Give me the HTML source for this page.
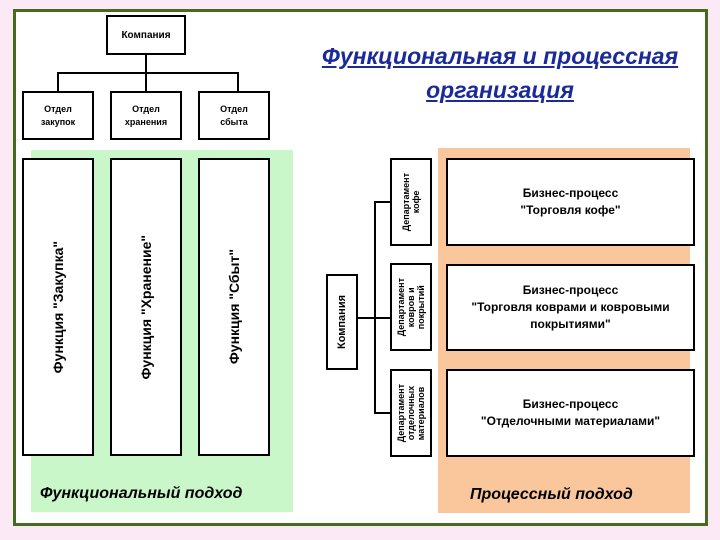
<!DOCTYPE html>
<html><head><meta charset="utf-8"><style>
*{margin:0;padding:0;box-sizing:border-box}
body{width:720px;height:540px;background:#fbe9f6;position:relative;overflow:hidden;font-family:"Liberation Sans",sans-serif}
.a{position:absolute}
.frame{left:13px;top:9px;width:695px;height:517px;border:3px solid #466a1e;background:#fff}
.box{position:absolute;border:2px solid #000;background:#fff;display:flex;align-items:center;justify-content:center;text-align:center;font-weight:bold;color:#000}
.v{writing-mode:vertical-rl;transform:rotate(180deg)}
.ln{position:absolute;background:#000}
.t{position:absolute;font-style:italic;font-weight:bold;font-size:16px;color:#000}
</style></head><body>
<div class="a frame"></div>
<div class="a" style="left:31px;top:150px;width:262px;height:362px;background:#c9f7c9"></div>
<div class="a" style="left:438px;top:148px;width:252px;height:365px;background:#f9c79b"></div>

<div class="box" style="left:106px;top:15px;width:80px;height:40px;font-size:10px">Компания</div>
<div class="ln" style="left:145px;top:55px;width:2px;height:18px"></div>
<div class="ln" style="left:57px;top:72px;width:182px;height:2px"></div>
<div class="ln" style="left:57px;top:72px;width:2px;height:20px"></div>
<div class="ln" style="left:145px;top:72px;width:2px;height:20px"></div>
<div class="ln" style="left:237px;top:72px;width:2px;height:20px"></div>
<div class="box" style="left:22px;top:91px;width:72px;height:49px;font-size:9px;line-height:13px">Отдел<br>закупок</div>
<div class="box" style="left:110px;top:91px;width:72px;height:49px;font-size:9px;line-height:13px">Отдел<br>хранения</div>
<div class="box" style="left:198px;top:91px;width:72px;height:49px;font-size:9px;line-height:13px">Отдел<br>сбыта</div>

<div class="box" style="left:22px;top:158px;width:72px;height:298px;font-size:14px"><span class="v">Функция "Закупка"</span></div>
<div class="box" style="left:110px;top:158px;width:72px;height:298px;font-size:14px"><span class="v">Функция "Хранение"</span></div>
<div class="box" style="left:198px;top:158px;width:72px;height:298px;font-size:14px"><span class="v">Функция "Сбыт"</span></div>
<div class="t" style="left:40px;top:485px">Функциональный подход</div>

<div class="a" style="left:290px;top:39px;width:420px;text-align:center;font-style:italic;font-weight:bold;font-size:23px;line-height:34px;color:#1a2a9a;text-decoration:underline">Функциональная и процессная<br>организация</div>

<div class="box" style="left:326px;top:274px;width:32px;height:96px;font-size:11px"><span class="v">Компания</span></div>
<div class="ln" style="left:358px;top:317px;width:18px;height:2px"></div>
<div class="ln" style="left:374px;top:201px;width:2px;height:213px"></div>
<div class="ln" style="left:374px;top:201px;width:17px;height:2px"></div>
<div class="ln" style="left:374px;top:317px;width:17px;height:2px"></div>
<div class="ln" style="left:374px;top:412px;width:17px;height:2px"></div>
<div class="box" style="left:390px;top:158px;width:42px;height:88px;font-size:9px;line-height:10px"><span class="v">Департамент<br>кофе</span></div>
<div class="box" style="left:390px;top:263px;width:42px;height:88px;font-size:9px;line-height:10px"><span class="v">Департамент<br>ковров и<br>покрытий</span></div>
<div class="box" style="left:390px;top:369px;width:42px;height:88px;font-size:9px;line-height:10px"><span class="v">Департамент<br>отделочных<br>материалов</span></div>

<div class="box" style="left:446px;top:158px;width:249px;height:88px;font-size:12px;line-height:17px">Бизнес-процесс<br>"Торговля кофе"</div>
<div class="box" style="left:446px;top:264px;width:249px;height:87px;font-size:12px;line-height:17px">Бизнес-процесс<br>"Торговля коврами и ковровыми<br>покрытиями"</div>
<div class="box" style="left:446px;top:369px;width:249px;height:88px;font-size:12px;line-height:17px">Бизнес-процесс<br>"Отделочными материалами"</div>
<div class="t" style="left:470px;top:486px">Процессный подход</div>
</body></html>
